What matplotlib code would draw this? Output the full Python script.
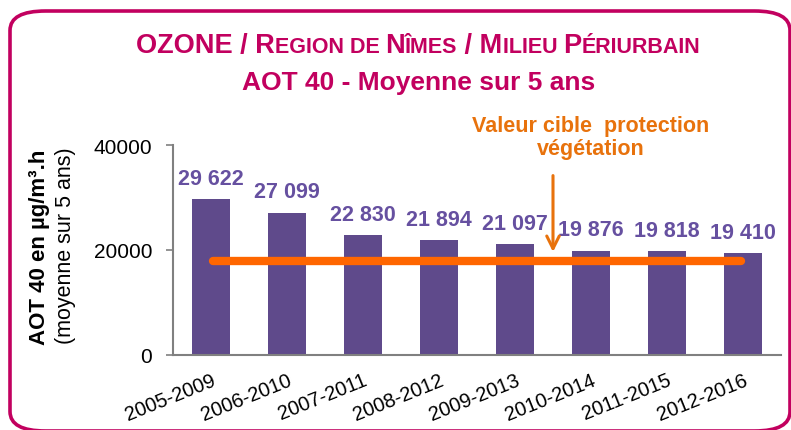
import matplotlib.pyplot as plt
from matplotlib.patches import FancyBboxPatch

# data
periods = ['2005-2009', '2006-2010', '2007-2011', '2008-2012',
           '2009-2013', '2010-2014', '2011-2015', '2012-2016']
aot40 = [29622, 27099, 22830, 21894, 21097, 19876, 19818, 19410]
target_value = 18000
y_ticks = [0, 20000, 40000]

bar_color = '#5F4A8B'
label_color = '#6650A0'
title_color = '#C2005F'
line_orange = '#FF6600'
text_orange = '#E8720C'

plt.rcParams['font.family'] = ['Liberation Sans', 'DejaVu Sans']

fig = plt.figure(figsize=(7.91, 4.31), dpi=100)
renderer = fig.canvas.get_renderer()

# rounded frame around the whole chart
frame = FancyBboxPatch((10 / 791, 1 - 432 / 431), 780 / 791, 420 / 431,
                       boxstyle='round,pad=0,rounding_size=0.045',
                       transform=fig.transFigure, fill=False,
                       edgecolor=title_color, linewidth=2.6, clip_on=False)
fig.patches.append(frame)

ax = fig.add_axes([173 / 791, 1 - 356 / 431, 608 / 791, 210 / 431])

x = list(range(len(periods)))
ax.bar(x, aot40, width=0.49, color=bar_color, zorder=2)

for xi, v in zip(x, aot40):
    txt = f'{v:,}'.replace(',', ' ')
    ax.annotate(txt, (xi, v), xytext=(0, 11), textcoords='offset points',
                ha='center', va='baseline', fontsize=15.5, fontweight='bold',
                color=label_color)

# target value line
ax.plot([0.02, 6.98], [target_value, target_value], color=line_orange,
        linewidth=6, solid_capstyle='round', zorder=3)

ax.annotate('', xy=(4.5, 19100), xytext=(4.5, 34700),
            arrowprops=dict(arrowstyle='->,head_length=0.9,head_width=0.45',
                            color=text_orange, linewidth=2.2),
            annotation_clip=False)

fig.text(591 / 791, 1 - 132 / 431, 'Valeur cible  protection', ha='center',
         va='baseline', fontsize=15.5, fontweight='bold', color=text_orange)
fig.text(591 / 791, 1 - 155 / 431, 'végétation', ha='center',
         va='baseline', fontsize=15.5, fontweight='bold', color=text_orange)

ax.set_xlim(-0.5, 7.5)
ax.set_ylim(0, 40000)
ax.set_yticks(y_ticks)
ax.set_yticklabels([str(t) for t in y_ticks], fontsize=15)
ax.set_xticks(x)
ax.set_xticklabels(periods, fontsize=14.5, rotation=22, ha='right',
                   rotation_mode='anchor')
ax.tick_params(axis='x', length=0, pad=11)
ax.tick_params(axis='y', length=5, width=1.2, color='#808080', pad=10)
for side in ['top', 'right']:
    ax.spines[side].set_visible(False)
for side in ['left', 'bottom']:
    ax.spines[side].set_color('#808080')
    ax.spines[side].set_linewidth(1.5)

# y axis label on two lines
fig.text(40 / 791, 1 - 247 / 431, 'AOT 40 en µg/m³.h', rotation=90,
         ha='center', va='center', fontsize=16, fontweight='bold')
fig.text(66 / 791, 1 - 246 / 431, '(moyenne sur 5 ans)', rotation=90,
         ha='center', va='center', fontsize=15.5)


# title with small caps, built piece by piece
def text_width(s, size):
    t = fig.text(0, 0, '|' + s + '|', fontsize=size, fontweight='bold')
    w1 = t.get_window_extent(renderer).width
    t.set_text('||')
    w2 = t.get_window_extent(renderer).width
    t.remove()
    return w1 - w2


big, small = 19.5, 15.5
pieces = [('OZONE / R', big), ('EGION DE ', small), ('N', big), ('ÎMES', small),
          (' / M', big), ('ILIEU ', small), ('P', big), ('ÉRIURBAIN', small)]
widths = [text_width(s, sz) for s, sz in pieces]
fig_w = fig.get_figwidth() * fig.dpi
xpos = 418 - sum(widths) / 2
for (s, sz), w in zip(pieces, widths):
    fig.text(xpos / fig_w, 1 - 53 / 431, s, fontsize=sz, fontweight='bold',
             color=title_color, ha='left', va='baseline')
    xpos += w

fig.text(419 / 791, 1 - 90 / 431, 'AOT 40 - Moyenne sur 5 ans', ha='center',
         va='baseline', fontsize=19, fontweight='bold', color=title_color)

plt.savefig('out.png', dpi=100)
